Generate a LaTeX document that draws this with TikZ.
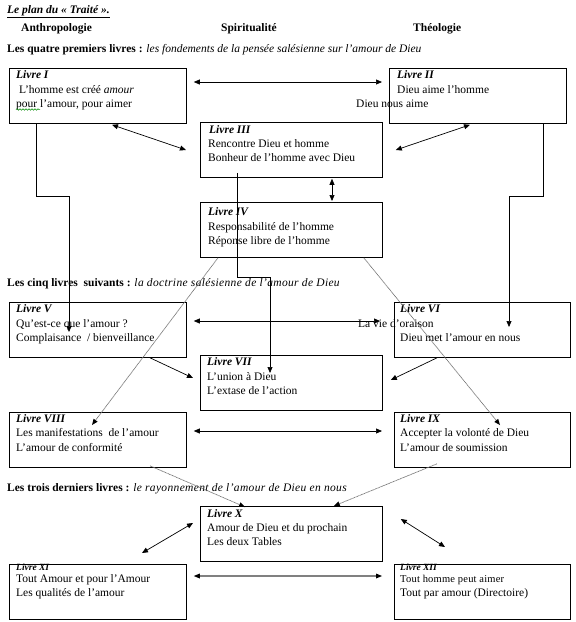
\documentclass[tikz,border=0pt]{standalone}
\usepackage{fontspec}
\setmainfont{Liberation Serif}
\usetikzlibrary{arrows.meta,calc,decorations.pathmorphing}
\tikzset{
  bx/.style={draw=black, line width=0.8pt, minimum width=177pt, minimum height=55pt, anchor=north west, inner sep=0pt},
  bxw/.style={bx, minimum width=182pt},
  bxr/.style={bx, minimum width=176pt},
  tx/.style={anchor=base west, inner sep=0pt, font=\fontsize{11.5}{14}\selectfont},
  lb/.style={tx, font=\fontsize{11.5}{14}\selectfont\bfseries\itshape},
  lbs/.style={tx, font=\fontsize{9.5}{11}\selectfont\bfseries\itshape},
  hd/.style={tx, font=\fontsize{11.5}{14}\selectfont\bfseries},
  con/.style={line width=0.7pt, black},
  ar/.style={con, -{Triangle[length=6pt,width=5pt]}},
  dar/.style={con, {Triangle[length=6pt,width=5pt]}-{Triangle[length=6pt,width=5pt]}},
  dot/.style={line width=0.7pt, black!55, dash pattern=on 1pt off 0.5pt, -{Triangle[length=6pt,width=5pt,color=black,line width=0pt]}},
  gar/.style={line width=1.6pt, black!50, {Triangle[length=6pt,width=5pt,color=black,line width=0pt]}-{Triangle[length=6pt,width=5pt,color=black,line width=0pt]}}
}
\begin{document}
\begin{tikzpicture}[x=1pt,y=-1pt]
\useasboundingbox (0,0) rectangle (576,622);
% headings
\node[tx, font=\fontsize{11.5}{14}\selectfont\bfseries\itshape] (title) at (7,13) {\underline{Le plan du « Traité ».}};
\node[hd] (hA) at (21,31) {Anthropologie};
\node[hd] (hS) at (221,31) {Spiritualité};
\node[hd] (hT) at (413,31) {Théologie};
\node[tx] (s1) at (7,52) {\textbf{Les quatre premiers livres :} \textit{les fondements de la pensée salésienne sur l’amour de Dieu}};
\node[tx] (s2) at (7,286) {\textbf{Les cinq livres\ \ suivants :} {\itshape\addfontfeature{LetterSpace=3}la doctrine salésienne de l’amour de Dieu}};
\node[tx] (s3) at (7,491) {\textbf{Les trois derniers livres :} {\itshape\addfontfeature{LetterSpace=3}le rayonnement de l’amour de Dieu en nous}};
% boxes
\node[bx]  (L1)  at (9,68) {};
\node[bx]  (L2)  at (389,68) {};
\node[bxw] (L3)  at (200,122) {};
\node[bxw] (L4)  at (200,202) {};
\node[bx]  (L5)  at (9,302) {};
\node[bxr] (L6)  at (394,302) {};
\node[bxw] (L7)  at (200,355) {};
\node[bx]  (L8)  at (9,412) {};
\node[bxr] (L9)  at (394,412) {};
\node[bxw] (L10) at (200,506) {};
\node[bx]  (L11) at (9,564) {};
\node[bxr] (L12) at (394,564) {};
% texts
\node[lb] (t1l) at (16,78.5) {Livre I};
\node[tx] (t1a) at (16,93) {\ L’homme est créé \textit{amour}};
\node[tx] (t1b) at (16,107.5) {pour l’amour, pour aimer};
\draw[green!55!black, line width=0.5pt, decorate, decoration={snake, amplitude=0.8pt, segment length=3pt}] (16,109.5) -- (40,109.5);
\node[lb] (t2l) at (397,78.5) {Livre II};
\node[tx] (t2a) at (397,93) {Dieu aime l’homme};
\node[tx] (t2b) at (356,107.5) {Dieu nous aime};
\node[lb] (t3l) at (209,133) {Livre III};
\node[tx] (t3a) at (208,147) {Rencontre Dieu et homme};
\node[tx] (t3b) at (208,161.5) {Bonheur de l’homme avec Dieu};
\node[lb] (t4l) at (208,215.5) {Livre IV};
\node[tx] (t4a) at (208,230) {Responsabilité de l’homme};
\node[tx] (t4b) at (208,244.5) {Réponse libre de l’homme};
\node[lb] (t5l) at (16,312.5) {Livre V};
\node[tx] (t5a) at (16,327) {Qu’est-ce que l’amour ?};
\node[tx] (t5b) at (16,341.5) {Complaisance\ \ / bienveillance};
\node[lb] (t6l) at (400,312.5) {Livre VI};
\node[tx] (t6a) at (358,327) {La vie d’oraison};
\node[tx] (t6b) at (400,341.5) {Dieu met l’amour en nous};
\node[lb] (t7l) at (207,365.5) {Livre VII};
\node[tx] (t7a) at (207,380) {L’union à Dieu};
\node[tx] (t7b) at (207,394.5) {L’extase de l’action};
\node[lb] (t8l) at (16,422) {Livre VIII};
\node[tx] (t8a) at (16,436.5) {Les manifestations\ \ de l’amour};
\node[tx] (t8b) at (16,451) {L’amour de conformité};
\node[lb] (t9l) at (400,422) {Livre IX};
\node[tx] (t9a) at (400,436.5) {Accepter la volonté de Dieu};
\node[tx] (t9b) at (400,451) {L’amour de soumission};
\node[lb] (t10l) at (207,517) {Livre X};
\node[tx] (t10a) at (207,531) {Amour de Dieu et du prochain};
\node[tx] (t10b) at (207,545.5) {Les deux Tables};
\node[lbs] (t11l) at (16,570.5) {Livre XI};
\node[tx] (t11a) at (16,582.5) {Tout Amour et pour l’Amour};
\node[tx] (t11b) at (16,596) {Les qualités\ de l’amour};
\node[lbs] (t12l) at (400,570.5) {Livre XII};
\node[tx, font=\fontsize{10.5}{12}\selectfont\addfontfeature{LetterSpace=2}] (t12a) at (400,582.5) {Tout homme peut aimer};
\node[tx] (t12b) at (400,596) {Tout par amour (Directoire)};
% connectors
\draw[dar] ($(L1.north east)+(7,14)$) -- ($(L2.north west)+(-7,14)$);
\draw[dar] ($(L1.south west)+(103,1)$) -- ($(L3.north west)+(-14,28)$);
\draw[dar] ($(L2.south west)+(81,1)$) -- ($(L3.north east)+(13,28)$);
\draw[dar] ($(L3.south west)+(132,1)$) -- ($(L4.north west)+(132,-1)$);
\draw[ar] ($(L1.south west)+(27,0)$) -- ++(0,73) -| ($(L5.north west)+(60,30)$);
\draw[ar] ($(L2.south west)+(154,0)$) -- ++(0,73) -| ($(L6.north west)+(115,25)$);
\draw[ar] ($(L3.south west)+(37,-5)$) -- ++(0,105) -| ($(L7.north west)+(70,18)$);
\draw[dar] ($(L5.north east)+(7,19)$) -- ($(L6.north west)+(-14,19)$);
\draw[ar] ($(L5.south west)+(141,0)$) -- ($(L7.north west)+(-7,23)$);
\draw[ar] ($(L6.south west)+(43,0)$) -- ($(L7.north east)+(8,25)$);
\draw[dot] ($(L4.south west)+(18,0)$) -- ($(L8.north west)+(83,13)$);
\draw[dot] ($(L4.south east)+(-19,0)$) -- ($(L9.north west)+(106,13)$);
\draw[dar] ($(L8.north east)+(7,19)$) -- ($(L9.north west)+(-12,19)$);
\draw[dot] ($(L8.south west)+(141,-2)$) -- ($(L10.north west)+(45,1)$);
\draw[dot] ($(L9.south west)+(43,-4)$) -- ($(L10.north east)+(-49,0)$);
\draw[dar] ($(L10.north west)+(-7,17)$) -- ($(L11.north west)+(133,-11)$);
\draw[dar] ($(L10.north east)+(18,13)$) -- ($(L12.north west)+(51,-17)$);
\draw[gar] ($(L11.north east)+(7,12)$) -- ($(L12.north west)+(-12,12)$);
\end{tikzpicture}
\end{document}
